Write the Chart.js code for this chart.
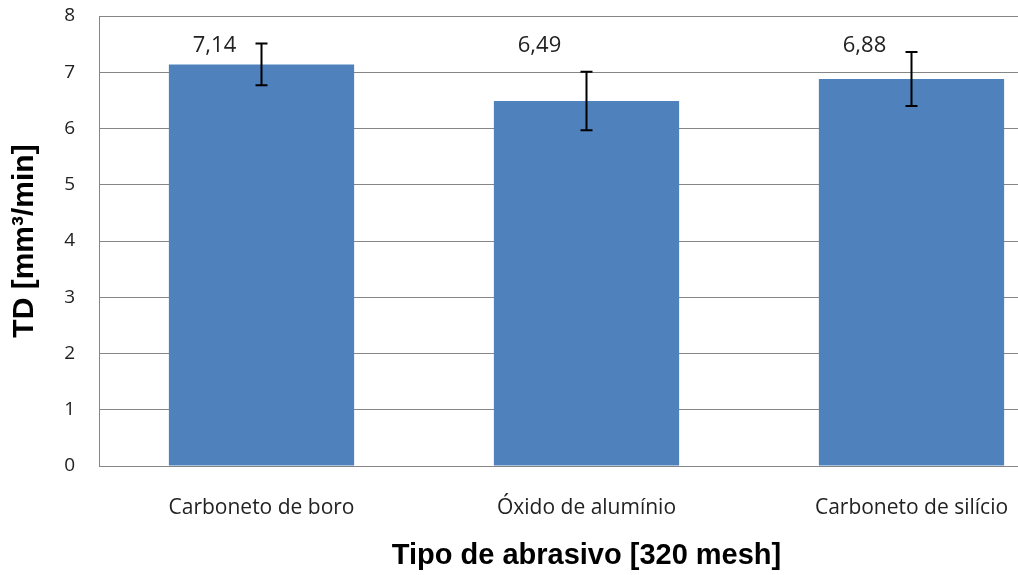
<!DOCTYPE html>
<html>
<head>
<meta charset="utf-8">
<script src="https://cdn.jsdelivr.net/npm/chart.js@4.4.0/dist/chart.umd.min.js"></script>
<style>
  html, body { margin: 0; padding: 0; background: #fff; overflow: hidden; }
  #wrap { width: 1080px; height: 575px; }
</style>
</head>
<body>
<div id="wrap"><canvas id="td-chart" width="1080" height="575"></canvas></div>
<script>
const categories = ["Carboneto de boro", "Óxido de alumínio", "Carboneto de silício"];
const tdValues = [7.14, 6.49, 6.88];
const tdErrors = [0.37, 0.52, 0.48];
const valueLabels = ["7,14", "6,49", "6,88"];
const yMin = 0;
const yMax = 8;

// error bars, drawn on top of the bars
const errorBars = {
  id: "errorBars",
  afterDatasetsDraw(chart) {
    const ctx = chart.ctx;
    const y = chart.scales.y;
    const meta = chart.getDatasetMeta(0);
    ctx.save();
    ctx.strokeStyle = "#000";
    ctx.lineWidth = 2;
    meta.data.forEach((bar, i) => {
      const top = y.getPixelForValue(tdValues[i] + tdErrors[i]);
      const bottom = y.getPixelForValue(tdValues[i] - tdErrors[i]);
      ctx.beginPath();
      ctx.moveTo(bar.x, top);
      ctx.lineTo(bar.x, bottom);
      ctx.moveTo(bar.x - 6, top);
      ctx.lineTo(bar.x + 6, top);
      ctx.moveTo(bar.x - 6, bottom);
      ctx.lineTo(bar.x + 6, bottom);
      ctx.stroke();
    });
    ctx.restore();
  },
};

// value labels, left of the error bar like in Excel
const valueLabelsPlugin = {
  id: "valueLabels",
  afterDatasetsDraw(chart) {
    const ctx = chart.ctx;
    const y = chart.scales.y;
    const meta = chart.getDatasetMeta(0);
    ctx.save();
    ctx.fillStyle = "#222";
    ctx.font = "22px 'Open Sans'";
    ctx.textAlign = "center";
    ctx.textBaseline = "middle";
    meta.data.forEach((bar, i) => {
      ctx.fillText(valueLabels[i], bar.x - 47, y.getPixelForValue(7.48));
    });
    ctx.restore();
  },
};

new Chart(document.getElementById("td-chart"), {
  type: "bar",
  data: {
    labels: categories,
    datasets: [
      {
        data: tdValues,
        backgroundColor: "#4F81BD",
        borderWidth: 0,
        barPercentage: 0.57,
        categoryPercentage: 1.0,
      },
    ],
  },
  options: {
    responsive: false,
    animation: false,
    devicePixelRatio: 1,
    layout: { padding: { top: 16, right: 6, left: 0, bottom: 0 } },
    plugins: {
      legend: { display: false },
      tooltip: { enabled: false },
    },
    scales: {
      x: {
        grid: { display: false, drawTicks: false },
        border: { color: "#868686", width: 1 },
        ticks: {
          color: "#222",
          font: { family: "'Open Sans'", size: 21 },
          padding: 29,
          maxRotation: 0,
        },
        title: {
          display: true,
          text: "Tipo de abrasivo [320 mesh]",
          color: "#000",
          font: { family: "'Liberation Sans'", size: 29, weight: "bold" },
          padding: { top: 0, bottom: 2 },
        },
        afterFit(scale) {
          scale.height = 109;
        },
      },
      y: {
        min: yMin,
        max: yMax,
        grid: {
          color: "#868686",
          lineWidth: 1,
          drawTicks: true,
          tickLength: 24,
          tickColor: "rgba(0,0,0,0)",
        },
        border: { color: "#868686", width: 1 },
        ticks: {
          stepSize: 1,
          color: "#222",
          font: { family: "'Open Sans'", size: 19 },
          padding: 0,
        },
        title: {
          display: true,
          text: "TD [mm³/min]",
          color: "#000",
          font: { family: "'Liberation Sans'", size: 30, weight: "bold" },
          padding: { top: 7, bottom: 0 },
        },
        afterFit(scale) {
          scale.width = 99;
        },
      },
    },
  },
  plugins: [errorBars, valueLabelsPlugin],
});
</script>
</body>
</html>
